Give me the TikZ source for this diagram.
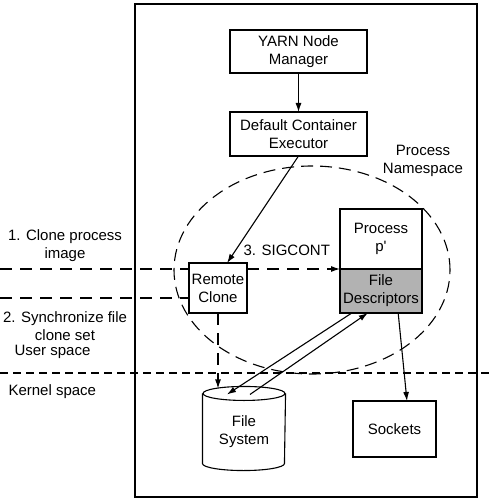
\documentclass[tikz,border=0pt]{standalone}
\usepackage{fontspec}
\setmainfont{Liberation Sans}
\usetikzlibrary{positioning}
\usetikzlibrary{shapes.geometric}
\usetikzlibrary{arrows.meta}
\tikzset{%
  flowarrow/.style = {-{Latex[length=9pt,width=6pt]},solid},
  sigarrow/.style = {-{Latex[length=9pt,width=6pt]},dash pattern=on 12pt off 8pt},
  sigline/.style = {dash pattern=on 12pt off 8pt},
  b/.style = {rectangle,draw,solid,align=center,inner sep=0pt,
        outer sep=0pt},
  lbl/.style = {align=center,inner sep=0pt}
}

\begin{document}
\begin{tikzpicture}[x=1pt,y=-1pt,line width=1.1pt,
        font=\fontsize{15}{18}\selectfont]
    \useasboundingbox (0,0) rectangle (494,500);
    % host frame
    \node[b,minimum width=342pt,minimum height=493pt] (host) at (306,250.5) {};
    \node[b,minimum width=137pt,minimum height=43pt] (ynm) at (298.5,51.5)
        {YARN Node\\Manager};
    \node[b,minimum width=137pt,minimum height=44pt,below=39pt of ynm] (dce)
        {Default Container\\Executor};
    \node[lbl] (pns) at (423,161) {Process\\Namespace};
    \node[ellipse,draw,dash pattern=on 12pt off 7pt,minimum width=276pt,
        minimum height=208pt] at (312,270) (ns) {};
    \node[b,fill=white,minimum width=58pt,minimum height=50pt] (rc) at (218,288)
        {Remote\\Clone};
    \node[b,fill=white,minimum width=82pt,minimum height=60pt] (pp) at (381,239)
        {Process\\p\textquotesingle};
    \node[b,fill=gray!60,minimum width=82pt,minimum height=44pt,below=0pt of pp] (fd)
        {File\\Descriptors};
    % file system drum
    \node[lbl,minimum width=82pt,minimum height=76pt] (fs) at (244,432)
        {File\\System};
    \draw (fs.north) ellipse (41pt and 7pt);
    \draw (fs.north west) -- ([yshift=7pt]fs.south west)
        arc[start angle=180,end angle=360,x radius=41pt,y radius=7pt]
        -- (fs.north east);
    \node[b,minimum width=83pt,minimum height=56pt] (sk) at (394.5,429) {Sockets};
    % labels
    \node[lbl] (l1) at (65,246) {1. Clone process\\image};
    \node[lbl] (l2) at (65,326) {2. Synchronize file\\clone set};
    \node[lbl,anchor=west] (us) at (14,352) {User space};
    \node[lbl,anchor=west] (ks) at (8,392) {Kernel space};
    \node[lbl,anchor=west] (sig) at (243,250) {3. SIGCONT};
    \coordinate (c1) at (0,269);
    \coordinate (c2) at (0,298);
    \coordinate (kl) at (0,373);
    \coordinate (kr) at (494,373);
    % connectors
    \draw[flowarrow] (ynm) -- (dce);
    \draw[flowarrow] (dce.south) -- (rc.70);
    \draw[sigline] (c1) -- (rc.west |- c1);
    \draw[sigarrow] (rc.east |- c1) -- (pp.south west);
    \draw[sigline] (c2) -- (rc.west |- c2);
    \draw[sigarrow,shorten >=5pt] (rc.south) -- (rc.south |- fs.north);
    \draw[flowarrow] (fd.217) -- ([xshift=-17pt,yshift=-1pt]fs.north);
    \draw[flowarrow] ([xshift=6pt,yshift=-1pt]fs.north) -- (fd.239);
    \draw[flowarrow] (fd.308) -- (sk.66);
    \draw[line width=2.5pt,dash pattern=on 8pt off 5pt] (kl) -- (kr);
\end{tikzpicture}
\end{document}
